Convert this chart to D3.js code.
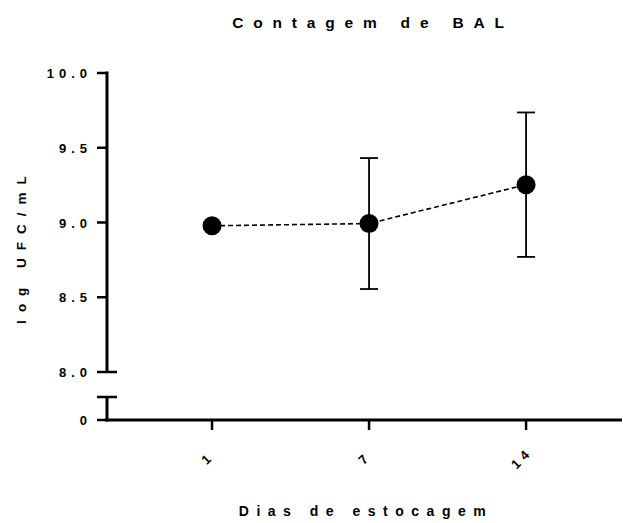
<!DOCTYPE html>
<html>
<head>
<meta charset="utf-8">
<script src="https://cdn.jsdelivr.net/npm/d3@7"></script>
<style>
  html, body { margin: 0; padding: 0; background: #fff; }
  svg text { font-family: "Liberation Sans", Arial, sans-serif; font-weight: bold; fill: #000; }
</style>
</head>
<body>
<svg id="chart" width="623" height="523"></svg>
<script>
// Storage days (categories) and bacterial counts (mean ± SD)
const days = ["1", "7", "14"];
const meanLog = [8.978, 8.993, 9.253];
const sdLog = [0.02, 0.438, 0.483];
const upperTicks = [8.0, 8.5, 9.0, 9.5, 10.0];
const lowerTicks = [0];

const svg = d3.select("#chart");

// Category positions on a continuous axis
const x = d3.scaleLinear().domain([0.331, 3.611]).range([107, 622]);
// Upper (broken) segment of the y axis
const y = d3.scaleLinear().domain([8, 10]).range([372, 73]);
// Lower segment holding only zero
const yLow = d3.scaleLinear().domain([0, 0.1]).range([420, 397]);

const axisX = 107;

// Y axis upper segment
svg.append("line")
  .attr("x1", axisX).attr("x2", axisX)
  .attr("y1", y(10) - 1.5).attr("y2", y(8))
  .attr("stroke", "#000").attr("stroke-width", 3);

// Y axis lower segment
svg.append("line")
  .attr("x1", axisX).attr("x2", axisX)
  .attr("y1", yLow(0.1)).attr("y2", yLow(0) + 1.5)
  .attr("stroke", "#000").attr("stroke-width", 3);

// Break bars at both ends of the gap
[y(8), yLow(0.1)].forEach(yy => {
  svg.append("line")
    .attr("x1", axisX - 10).attr("x2", axisX + 10)
    .attr("y1", yy).attr("y2", yy)
    .attr("stroke", "#000").attr("stroke-width", 2.5);
});

// Y ticks + labels (upper)
const fmt = d3.format(".1f");
upperTicks.forEach(v => {
  if (v !== 8) {
    svg.append("line")
      .attr("x1", axisX - 10).attr("x2", axisX)
      .attr("y1", y(v)).attr("y2", y(v))
      .attr("stroke", "#000").attr("stroke-width", 2.5);
  }
  svg.append("text")
    .attr("x", 92).attr("y", y(v) + 5)
    .attr("text-anchor", "end")
    .attr("font-size", 13)
    .attr("letter-spacing", 5)
    .text(fmt(v));
});
lowerTicks.forEach(v => {
  svg.append("line")
    .attr("x1", axisX - 10).attr("x2", axisX)
    .attr("y1", yLow(v)).attr("y2", yLow(v))
    .attr("stroke", "#000").attr("stroke-width", 2.5);
  svg.append("text")
    .attr("x", 92).attr("y", yLow(v) + 5)
    .attr("text-anchor", "end")
    .attr("font-size", 13)
    .attr("letter-spacing", 5)
    .text(String(v));
});

// X axis
svg.append("line")
  .attr("x1", axisX - 1.5).attr("x2", x.range()[1])
  .attr("y1", 420).attr("y2", 420)
  .attr("stroke", "#000").attr("stroke-width", 3);

days.forEach((d, i) => {
  const px = x(i + 1);
  svg.append("line")
    .attr("x1", px).attr("x2", px)
    .attr("y1", 420).attr("y2", 430)
    .attr("stroke", "#000").attr("stroke-width", 2.5);
  svg.append("text")
    .attr("transform", `translate(${px - 1},${461}) rotate(-45)`)
    .attr("text-anchor", "middle")
    .attr("font-size", 13)
    .attr("letter-spacing", 5)
    .text(d);
});

// Dashed connecting line
const line = d3.line().x((d, i) => x(i + 1)).y(d => y(d));
svg.append("path")
  .datum(meanLog)
  .attr("d", line)
  .attr("fill", "none")
  .attr("stroke", "#000")
  .attr("stroke-width", 1.6)
  .attr("stroke-dasharray", "5,3");

// Error bars
meanLog.forEach((m, i) => {
  const px = x(i + 1);
  const top = y(m + sdLog[i]), bot = y(m - sdLog[i]);
  const g = svg.append("g").attr("stroke", "#000").attr("stroke-width", 1.8);
  g.append("line").attr("x1", px).attr("x2", px).attr("y1", top).attr("y2", bot);
  g.append("line").attr("x1", px - 9).attr("x2", px + 9).attr("y1", top).attr("y2", top);
  g.append("line").attr("x1", px - 9).attr("x2", px + 9).attr("y1", bot).attr("y2", bot);
});

// Markers
svg.selectAll("circle.pt")
  .data(meanLog)
  .enter().append("circle")
  .attr("class", "pt")
  .attr("cx", (d, i) => x(i + 1))
  .attr("cy", d => y(d))
  .attr("r", 9.5)
  .attr("fill", "#000");

// Title
svg.append("text")
  .attr("x", 373).attr("y", 28)
  .attr("text-anchor", "middle")
  .attr("font-size", 15.5)
  .attr("letter-spacing", 9.8)
  .text("Contagem de BAL");

// Axis titles
svg.append("text")
  .attr("x", 366).attr("y", 516)
  .attr("text-anchor", "middle")
  .attr("font-size", 14)
  .attr("letter-spacing", 7.5)
  .text("Dias de estocagem");

svg.append("text")
  .attr("transform", "translate(26,246) rotate(-90)")
  .attr("text-anchor", "middle")
  .attr("font-size", 13.5)
  .attr("letter-spacing", 8)
  .text("log UFC/mL");
</script>
</body>
</html>
